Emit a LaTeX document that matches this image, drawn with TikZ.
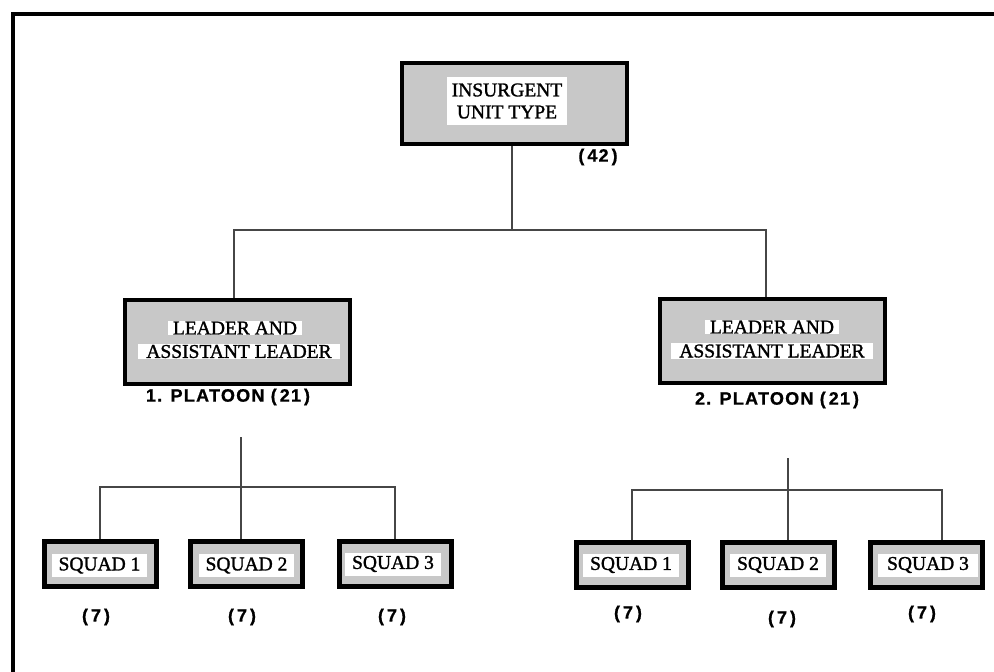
\documentclass[tikz,border=0pt]{standalone}
\usepackage{fontspec}
\setmainfont{Liberation Serif}[FakeBold=1.4]
\newfontfamily\labfont{Liberation Sans}[LetterSpace=7,FakeBold=0.8]
\definecolor{boxgray}{RGB}{200,200,200}
\definecolor{linkgray}{RGB}{70,70,70}
\begin{document}
\begin{tikzpicture}[x=1pt,y=-1pt,
  outerbox/.style={draw=black, line width=4pt, fill=boxgray, inner sep=0pt},
  sqbox/.style={outerbox, line width=5pt, minimum width=112pt, minimum height=45pt},
  leadbox/.style={outerbox, minimum width=225pt, minimum height=84pt},
  labelbg/.style={fill=white, inner xsep=5pt, inner ysep=2pt, align=center,
    font=\fontsize{19.5}{22}\selectfont},
  count/.style={font=\labfont\bfseries\fontsize{18}{18}\selectfont, inner sep=0pt},
  link/.style={line width=1.4pt, draw=linkgray},
  frame/.style={line width=4pt, draw=black}]
\useasboundingbox (0,0) rectangle (994,672);
% frame
\draw[frame] (12.5,672) -- (12.5,13.5) -- (994,13.5);

% top
\node[outerbox, minimum width=225pt, minimum height=81pt] (top) at (514.5,103.5) {};
\node[labelbg, minimum width=118pt, minimum height=48pt] (toplab) at (507,101) {INSURGENT\\UNIT TYPE};
\node[count] (c42) at (598,157) {(\,42\,)};

% platoon boxes
\node[leadbox] (lp) at (237.5,341.5) {};
\node[labelbg, inner ysep=1pt] (lp1) at (235,328) {LEADER AND};
\node[labelbg, inner ysep=1pt, inner xsep=8pt] (lp2) at (239,351.5) {ASSISTANT LEADER};
\node[count] (lpc) at (228,397) {1. PLATOON (\,21\,)};

\node[leadbox] (rp) at (772.5,341) {};
\node[labelbg, inner ysep=1pt] (rp1) at (772,327) {LEADER AND};
\node[labelbg, inner ysep=1pt, inner xsep=8pt] (rp2) at (772,351) {ASSISTANT LEADER};
\node[count] (rpc) at (777,400) {2. PLATOON (\,21\,)};

% connectors top
\coordinate (j0) at (512,230);
\draw[link] (top.south -| j0) -- (j0);
\draw[link] (lp.north -| 234,0) |- (j0) -| (rp.north -| 766,0);

% left squads
\node[sqbox] (l1) at (100,564) {};
\node[sqbox] (l2) at (246.5,564) {};
\node[sqbox] (l3) at (395,564) {};
\node[labelbg, minimum height=23pt, inner xsep=7pt] (l1t) at (99.5,565.5) {SQUAD 1};
\node[labelbg, minimum height=23pt, inner xsep=7pt] (l2t) at (246.5,565.5) {SQUAD 2};
\node[labelbg, minimum height=23pt, inner xsep=7pt] (l3t) at (393,564) {SQUAD 3};
\node[count] (l1c) at (96,617) {(\,7\,)};
\node[count] (l2c) at (242,617) {(\,7\,)};
\node[count] (l3c) at (392,617) {(\,7\,)};

\coordinate (lt) at (241,437);
\coordinate (lj) at (241,487);
\draw[link] (lt) -- (lj);
\draw[link] (l1.north) |- (lj) -| (l3.north);
\draw[link] (lj) -- (lj |- l2.north);

% right squads
\node[sqbox] (r1) at (632,564.5) {};
\node[sqbox] (r2) at (778,564.5) {};
\node[sqbox] (r3) at (926,564.5) {};
\node[labelbg, minimum height=23pt, inner xsep=7pt] (r1t) at (631,565) {SQUAD 1};
\node[labelbg, minimum height=23pt, inner xsep=7pt] (r2t) at (778,565) {SQUAD 2};
\node[labelbg, minimum height=23pt, inner xsep=9pt] (r3t) at (928,565) {SQUAD 3};
\node[count] (r1c) at (628,614) {(\,7\,)};
\node[count] (r2c) at (782,619) {(\,7\,)};
\node[count] (r3c) at (922,614) {(\,7\,)};

\coordinate (rt) at (788,458);
\coordinate (rj) at (788,490);
\draw[link] (rt) -- (rj);
\draw[link] (r1.north) |- (rj) -| (r3.north -| 942,0);
\draw[link] (rj) -- (rj |- r2.north);
\end{tikzpicture}
\end{document}
